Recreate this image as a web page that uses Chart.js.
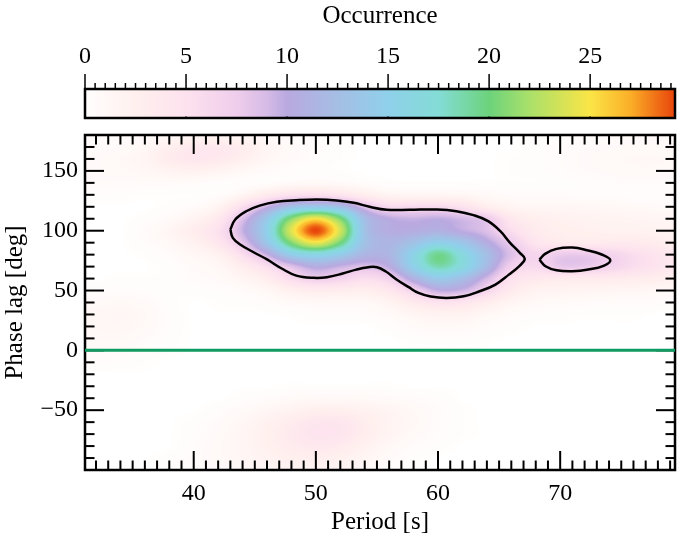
<!DOCTYPE html>
<html lang="en">
<head>
<meta charset="UTF-8">
<title>Occurrence map</title>
<script src="https://cdn.jsdelivr.net/npm/chart.js"></script>
<style>
  html, body { margin: 0; background: #fff; }
  canvas { position: absolute; left: 0; top: 0; }
</style>
</head>
<body>
<canvas id="mapChart" width="685" height="537"></canvas>
<canvas id="barChart" width="685" height="135"></canvas>
<script>
// axis ranges and ticks
const periodRange = [31.1, 79.4];
const lagRange = [-100, 180];
const periodTicks = [40, 50, 60, 70];
const periodMinor = [32,33,34,35,36,37,38,39,41,42,43,44,45,46,47,48,49,51,52,53,54,55,56,57,58,59,61,62,63,64,65,66,67,68,69,71,72,73,74,75,76,77,78,79];
const lagTicks = [-50, 0, 50, 100, 150];
const lagMinor = [-90,-80,-70,-60,-40,-30,-20,-10,10,20,30,40,60,70,80,90,110,120,130,140,160,170];
const occRange = [0, 29.2];
const occTicks = [0, 5, 10, 15, 20, 25];
const occMinor = [0.5,1,1.5,2,2.5,3,3.5,4,4.5,5.5,6,6.5,7,7.5,8,8.5,9,9.5,10.5,11,11.5,12,12.5,13,13.5,14,14.5,15.5,16,16.5,17,17.5,18,18.5,19,19.5,20.5,21,21.5,22,22.5,23,23.5,24,24.5,25.5,26,26.5,27,27.5,28,28.5,29];

// colour table
const colorLevels = [0, 2.5, 5, 7.5, 9, 10, 12.5, 15, 17.5, 20, 22, 25, 27, 29.2];
const colorValues = ['#fffefd','#fff0ee','#fde2ee','#efcdec','#d6bbe6','#b9a9e0','#a5bee4','#8fd0ea','#84dcd6','#6cd37c','#aae06a','#fbe546','#fbae28','#e8440a'];

// occurrence
const gridPeriods = [30,32,34,36,38,40,42,44,46,48,50,52,54,56,58,60,62,64,66,68,70,72,74,76,78,80];
const gridLags = [180,170,160,150,140,130,120,110,100,90,80,70,60,50,40,30,20,10,0,-10,-20,-30,-40,-50,-60,-70,-80,-90,-100];
const occurrence = [
  [.3,.3,.4,.6,1,1.4,1.5,1.2,.8,.4,.2,0,0,0,0,0,0,0,0,.1,.2,.4,.5,.6,.6,.5],
  [.4,.5,.7,1.2,2.6,3.6,3.8,3,1.5,.8,.4,.1,0,0,0,0,0,0,0,.2,.4,.6,.7,.8,.8,.7],
  [.6,.7,1,1.6,3.2,4,3.6,2.6,1.3,.7,.3,.1,0,0,0,0,0,0,.1,.2,.4,.7,.9,1,1,.9],
  [.6,.7,.9,1.2,1.8,2.2,1.8,1.1,.6,.3,.2,.1,0,0,0,0,0,0,.1,.2,.4,.6,.8,.9,.9,.8],
  [.6,.6,.6,.6,.6,.5,.3,.3,.4,.8,1,.8,.4,.2,.1,.1,.1,.1,.1,.1,.2,.3,.4,.5,.5,.5],
  [.3,.3,.2,.1,.1,.1,.4,1.5,3.5,5,5.2,4.5,3,1.7,1.5,1.5,1.3,.9,.6,.5,.5,.4,.4,.3,.3,.3],
  [0,0,0,0,.2,.6,1.8,5.5,9.5,13,14,12.8,8.5,6,6,6,5,3,1.7,1.3,1.3,1.2,1.1,.9,.8,.7],
  [0,0,0,.2,.8,1.8,3.8,8.5,13.9,21,25,20.6,12.4,10,9.5,9.8,9,7.8,4,2.7,2.2,2,1.8,1.7,1.5,1.4],
  [0,0,0,.6,1.5,3,5,9.5,15,24,29.2,23.5,13,10.5,10.5,11,9.8,8.5,5.5,3.4,2.7,2.4,2.2,2.2,2,1.8],
  [0,0,0,.4,1.1,2.2,4.2,8,13.7,20.7,24.5,20.2,13,11.5,13,15,13.5,10.5,7.5,4.5,3.5,3.4,3.5,3.5,3,2.5],
  [0,0,0,.1,.5,1.2,2.2,5.5,9.5,14.5,16,14.3,11.5,11.5,15.5,19.5,16.5,12.5,8.5,6.5,7.6,7.7,6.8,5.5,4.5,3.5],
  [0,0,0,0,.2,.7,1.2,3,5.5,8.4,10.5,9.5,8.6,10,15,18.5,16.5,12,7,6,7.8,7.7,6.8,5.5,4.5,3.5],
  [0,0,.1,.1,.2,.5,.8,1.5,3,5.8,7.3,6.8,5.5,6.8,11,14,12.5,9,5,3.8,3.5,3.5,3.4,3.2,2.8,2.3],
  [.3,.4,.4,.3,.1,.2,.3,.6,1.2,2.5,3.2,3,2.8,4,6.8,9.7,9.3,6.5,3.5,2,1.8,1.6,1.5,1.4,1.2,1],
  [.7,.8,1,.7,.2,0,.1,.2,.4,.8,1,1,1,1.8,3.5,4.8,4.5,3,1.6,.9,.7,.6,.5,.5,.4,.3],
  [1,1.2,1.4,1,.3,0,0,0,0,.1,.3,.3,.4,.8,1.5,2,2,1.2,.6,.3,.2,.1,.1,.1,0,0],
  [1,1.2,1.3,.9,.3,0,0,0,0,0,0,0,0,.3,.7,1,.9,.5,.2,0,0,0,0,0,0,0],
  [.8,1,1,.6,.2,0,0,0,0,0,0,0,0,0,.2,.3,.3,.1,0,0,0,0,0,0,0,0],
  [.6,.7,.6,.3,.1,0,0,0,0,0,0,0,0,0,0,0,0,0,0,0,0,0,0,0,0,0],
  [.4,.4,.3,.1,0,0,0,0,0,0,0,0,0,0,0,0,0,0,0,0,0,0,0,0,0,0],
  [0,0,0,0,0,0,0,0,0,0,0,0,0,0,0,0,0,0,0,0,0,0,0,0,0,0],
  [0,0,0,0,0,0,0,0,0,.1,.1,.1,.1,.1,0,0,0,0,0,0,0,0,0,0,0,0],
  [0,0,0,0,0,0,0,.2,.5,.8,1,1,.9,.7,.5,.3,0,0,0,0,0,0,0,0,0,0],
  [0,0,0,0,0,0,.3,.8,1.4,2,2.6,2.6,2.2,1.6,1,.5,.1,0,0,0,0,0,0,0,0,0],
  [0,0,0,0,0,.2,.6,1.3,2.2,3.2,4.2,4.2,3,1.8,1.1,.5,.1,0,0,0,0,0,0,0,0,0],
  [0,0,0,0,0,.3,.8,1.5,2.5,3.6,4.6,4.4,3,1.7,.9,.4,.1,0,0,0,0,0,0,0,0,0],
  [0,0,0,0,0,.4,.9,1.5,2.4,3.2,3.8,3.4,2.2,1.1,.5,.2,0,0,0,0,0,0,0,0,0,0],
  [0,0,0,0,.2,.5,.9,1.4,2,2.6,2.8,2.4,1.5,.7,.2,0,0,0,0,0,0,0,0,0,0,0],
  [0,0,0,0,.2,.5,.8,1.2,1.6,2,2,1.7,1,.4,.1,0,0,0,0,0,0,0,0,0,0,0]
];

// contours
const mainContourPeriod = [43.0,43.4,44.3,45.4,46.8,48.4,50.1,51.7,53.1,54.4,55.8,57.7,59.9,61.5,62.9,64.1,65.1,65.9,66.7,67.1,66.7,65.8,64.7,63.4,62.1,60.7,59.4,58.4,57.6,56.6,55.7,55.0,54.3,53.3,52.2,50.9,49.8,48.4,47.2,46.0,44.9,43.8,43.2,43.0];
const mainContourLag = [101,109.4,116.3,121,124.2,125.5,126.1,125.3,123.3,120,117.5,117.5,117.7,116.3,113,108,99.6,89.9,81.5,76.5,70.9,63.3,55,49.4,45.2,43.8,45,48,52.8,59.3,66.1,69.5,69.5,67.5,64.2,61.1,60.6,62.5,68.4,76,82,88.5,94,101];
const smallContourPeriod = [68.3,68.8,69.7,71,72.2,73.4,74.1,73.6,72.3,71,69.7,68.8,68.3];
const smallContourLag = [75.9,80.9,84.8,85.9,83.7,80.1,75.6,70.9,67.5,66.1,66.9,70.3,75.9];

const serif = 'Liberation Serif';
const tickFont = { family: serif, size: 24 };
const titleFont = { family: serif, size: 25 };

function hexToRgb(h) {
  return [parseInt(h.slice(1,3),16), parseInt(h.slice(3,5),16), parseInt(h.slice(5,7),16)];
}
const colorRgb = colorValues.map(hexToRgb);

function colorFor(v) {
  if (v <= 0.02) return [255,255,255];
  if (v >= colorLevels[colorLevels.length-1]) return colorRgb[colorRgb.length-1];
  let i = 0;
  while (colorLevels[i+1] < v) i++;
  const t = (v - colorLevels[i]) / (colorLevels[i+1] - colorLevels[i]);
  return colorRgb[i].map((c, k) => c + (colorRgb[i+1][k] - c) * t);
}

function cubic(a, b, c, d, t) {
  return b + 0.5 * t * (c - a + t * (2*a - 5*b + 4*c - d + t * (3*(b - c) + d - a)));
}

// smooth lookup in the read grid, only for painting
function occurrenceAt(p, lag) {
  const fx = (p - gridPeriods[0]) / 2;
  const fy = (gridLags[0] - lag) / 10;
  const ix = Math.floor(fx), iy = Math.floor(fy);
  const rows = [];
  for (let j = -1; j <= 2; j++) {
    const row = occurrence[Math.min(Math.max(iy + j, 0), occurrence.length - 1)];
    const at = k => row[Math.min(Math.max(ix + k, 0), row.length - 1)];
    rows.push(cubic(at(-1), at(0), at(1), at(2), fx - ix));
  }
  return cubic(rows[0], rows[1], rows[2], rows[3], fy - iy);
}

const heatmap = {
  id: 'heatmap',
  beforeDatasetsDraw(chart) {
    const { ctx, chartArea: a, scales: { x, y } } = chart;
    const w = Math.round(a.right - a.left), h = Math.round(a.bottom - a.top);
    const img = ctx.createImageData(w, h);
    for (let j = 0; j < h; j++) {
      const lag = y.getValueForPixel(a.top + j + 0.5);
      for (let i = 0; i < w; i++) {
        const c = colorFor(occurrenceAt(x.getValueForPixel(a.left + i + 0.5), lag));
        const o = (j * w + i) * 4;
        img.data[o] = c[0]; img.data[o+1] = c[1]; img.data[o+2] = c[2]; img.data[o+3] = 255;
      }
    }
    ctx.putImageData(img, a.left, a.top);
  }
};

function segment(ctx, x1, y1, x2, y2) {
  ctx.beginPath(); ctx.moveTo(x1, y1); ctx.lineTo(x2, y2); ctx.stroke();
}

// IDL style frame with inward ticks on all four sides, under the lines
const frameTicks = {
  id: 'frameTicks',
  beforeDatasetsDraw(chart) {
    const { ctx, chartArea: a, scales: { x, y } } = chart;
    ctx.save();
    ctx.strokeStyle = '#000';
    ctx.lineWidth = 2;
    const vert = (list, len) => list.forEach(v => {
      const px = x.getPixelForValue(v);
      segment(ctx, px, a.bottom, px, a.bottom - len);
      segment(ctx, px, a.top, px, a.top + len);
    });
    const horiz = (list, len) => list.forEach(v => {
      const py = y.getPixelForValue(v);
      segment(ctx, a.left, py, a.left + len, py);
      segment(ctx, a.right, py, a.right - len, py);
    });
    vert(periodTicks, 19); vert(periodMinor, 9.5);
    horiz(lagTicks, 19); horiz(lagMinor, 9.5);
    ctx.lineWidth = 2.5;
    ctx.strokeRect(a.left, a.top, a.right - a.left, a.bottom - a.top);
    ctx.restore();
  }
};

const barTicks = {
  id: 'barTicks',
  afterDatasetsDraw(chart) {
    const { ctx, chartArea: a, scales: { x } } = chart;
    ctx.save();
    ctx.strokeStyle = '#000';
    ctx.lineWidth = 1.5;
    occMinor.forEach(v => {
      const px = x.getPixelForValue(v);
      segment(ctx, px, a.top, px, a.top - 6);
    });
    occTicks.forEach(v => {
      const px = x.getPixelForValue(v);
      segment(ctx, px, a.top, px, a.top - 15);
      segment(ctx, px, a.bottom, px, a.bottom - 1.5);
    });
    ctx.lineWidth = 2.5;
    ctx.strokeRect(a.left, a.top, a.right - a.left, a.bottom - a.top);
    ctx.restore();
  }
};

function toPoints(px, py) { return px.map((p, i) => ({ x: p, y: py[i] })); }

new Chart(document.getElementById('mapChart'), {
  type: 'scatter',
  data: {
    datasets: [
      { data: toPoints(periodRange, [0, 0]), showLine: true, borderColor: '#0f9a60', borderWidth: 3, pointRadius: 0 },
      { data: toPoints(mainContourPeriod, mainContourLag), showLine: true, borderColor: '#000', borderWidth: 2.5, pointRadius: 0, tension: 0.4 },
      { data: toPoints(smallContourPeriod, smallContourLag), showLine: true, borderColor: '#000', borderWidth: 2.5, pointRadius: 0, tension: 0.4 }
    ]
  },
  options: {
    responsive: false,
    animation: false,
    layout: { padding: { top: 135, right: 10 } },
    plugins: { legend: { display: false }, tooltip: { enabled: false } },
    scales: {
      x: {
        type: 'linear', min: periodRange[0], max: periodRange[1],
        grid: { display: false, drawTicks: false }, border: { display: false },
        afterBuildTicks: s => { s.ticks = periodTicks.map(v => ({ value: v })); },
        afterFit: s => { s.height = 67; },
        ticks: { color: '#000', font: tickFont, padding: 9, autoSkip: false, maxRotation: 0 },
        title: { display: true, text: 'Period [s]', color: '#000', font: titleFont, padding: { top: 4, bottom: 0 } }
      },
      y: {
        type: 'linear', min: lagRange[0], max: lagRange[1],
        grid: { display: false, drawTicks: false }, border: { display: false },
        afterBuildTicks: s => { s.ticks = lagTicks.map(v => ({ value: v })); },
        afterFit: s => { s.width = 85; },
        ticks: { color: '#000', font: tickFont, padding: 7, autoSkip: false, callback: v => String(v).replace('-', '\u2212') },
        title: { display: true, text: 'Phase lag [deg]', color: '#000', font: titleFont, padding: { top: 0, bottom: 0 } }
      }
    }
  },
  plugins: [heatmap, frameTicks]
});

new Chart(document.getElementById('barChart'), {
  type: 'bar',
  data: {
    labels: ['Occurrence'],
    datasets: [{
      data: [occRange],
      borderWidth: 0,
      barPercentage: 1,
      categoryPercentage: 1,
      backgroundColor: ctx => {
        const x = ctx.chart.scales.x;
        const left = x ? x.getPixelForValue(occRange[0]) : NaN;
        const right = x ? x.getPixelForValue(occRange[1]) : NaN;
        if (!Number.isFinite(left) || !Number.isFinite(right)) return '#fff';
        const g = ctx.chart.ctx.createLinearGradient(left, 0, right, 0);
        colorLevels.forEach((v, i) => g.addColorStop(v / occRange[1], colorValues[i]));
        return g;
      }
    }]
  },
  options: {
    indexAxis: 'y',
    responsive: false,
    animation: false,
    layout: { padding: { left: 85, right: 10, bottom: 17 } },
    plugins: { legend: { display: false }, tooltip: { enabled: false } },
    scales: {
      x: {
        type: 'linear', position: 'top', min: occRange[0], max: occRange[1],
        grid: { display: false, drawTicks: false }, border: { display: false },
        afterBuildTicks: s => { s.ticks = occTicks.map(v => ({ value: v })); },
        afterFit: s => { s.height = 89; },
        ticks: { color: '#000', font: tickFont, padding: 18, autoSkip: false, maxRotation: 0 },
        title: { display: true, text: 'Occurrence', color: '#000', font: titleFont, padding: { top: 1, bottom: 0 } }
      },
      y: { display: false }
    }
  },
  plugins: [barTicks]
});
</script>
</body>
</html>
